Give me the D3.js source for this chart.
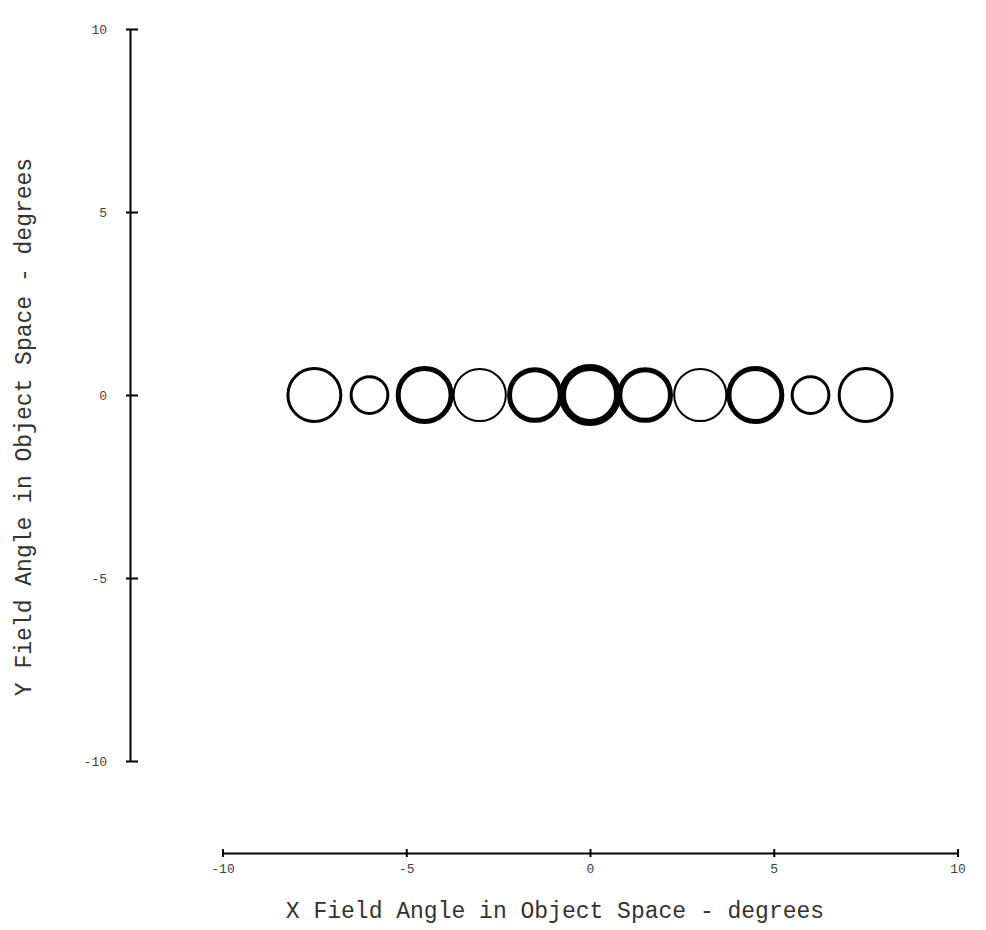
<!DOCTYPE html>
<html>
<head>
  <meta charset="utf-8">
  <script src="https://d3js.org/d3.v7.min.js"></script>
  <style>
    body { margin: 0; background: #fff; }
    .axis path, .axis line { stroke: #000; stroke-width: 2; fill: none; }
    .axis text { font-family: "Liberation Mono", "Courier New", monospace; font-size: 13px; fill: #444; }
    .title { font-family: "Liberation Mono", "Courier New", monospace; font-size: 23px; fill: #333; }
  </style>
</head>
<body>
<script>
  // field positions (degrees)
  var fieldX = [-7.5, -6, -4.5, -3, -1.5, 0, 1.5, 3, 4.5, 6, 7.5];
  var fieldY = [0, 0, 0, 0, 0, 0, 0, 0, 0, 0, 0];
  // spot radius (degrees) and relative line weight
  var spotRadius = [0.72, 0.50, 0.72, 0.71, 0.69, 0.75, 0.69, 0.71, 0.72, 0.50, 0.72];
  var spotWeight = [3, 3, 5, 2, 5, 7, 5, 2, 5, 3, 3];
  var tickVals = [-10, -5, 0, 5, 10];

  var width = 986, height = 930;
  var svg = d3.select("body").append("svg")
    .attr("width", width)
    .attr("height", height);

  var x = d3.scaleLinear().domain([-10, 10]).range([222.5, 957.5]);
  var y = d3.scaleLinear().domain([-10, 10]).range([761, 29]);
  var pxPerUnit = x(1) - x(0);
  var fmt = function(d) { return String(d); };

  // y axis
  var yAxis = svg.append("g")
    .attr("class", "axis")
    .attr("transform", "translate(130,0)")
    .call(d3.axisLeft(y).tickValues(tickVals).tickFormat(fmt).tickSizeOuter(0).tickSizeInner(0));
  yAxis.selectAll(".tick line").attr("x1", -4).attr("x2", 8);
  yAxis.selectAll(".tick text").attr("x", -23).attr("dy", "0.35em");

  // x axis
  var xAxis = svg.append("g")
    .attr("class", "axis")
    .attr("transform", "translate(0,853)")
    .call(d3.axisBottom(x).tickValues(tickVals).tickFormat(fmt).tickSizeOuter(0).tickSizeInner(0));
  xAxis.selectAll(".tick line").attr("y1", -4).attr("y2", 4);
  xAxis.selectAll(".tick text").attr("y", 20).attr("dy", 0);

  // titles
  svg.append("text")
    .attr("class", "title")
    .attr("x", 555)
    .attr("y", 918)
    .attr("text-anchor", "middle")
    .text("X Field Angle in Object Space - degrees");

  svg.append("text")
    .attr("class", "title")
    .attr("transform", "translate(31,427) rotate(-90)")
    .attr("text-anchor", "middle")
    .text("Y Field Angle in Object Space - degrees");

  // spots
  svg.append("g")
    .selectAll("circle")
    .data(fieldX)
    .enter()
    .append("circle")
    .attr("cx", function(d) { return x(d); })
    .attr("cy", function(d, i) { return y(fieldY[i]); })
    .attr("r", function(d, i) { return spotRadius[i] * pxPerUnit; })
    .attr("fill", "none")
    .attr("stroke", "#000")
    .attr("stroke-width", function(d, i) { return spotWeight[i]; });
</script>
</body>
</html>
